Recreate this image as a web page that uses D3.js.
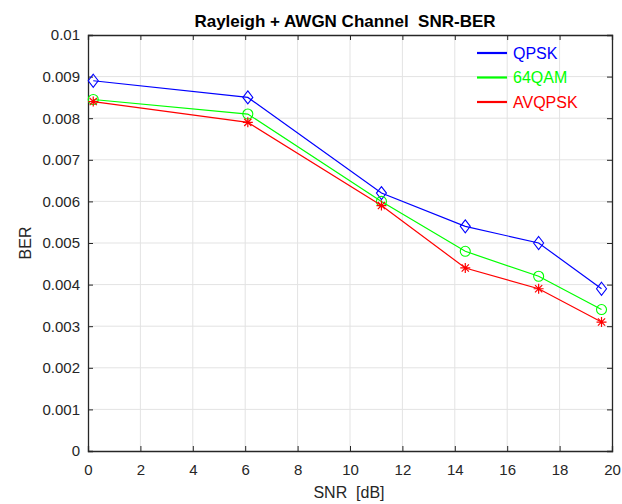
<!DOCTYPE html>
<html>
<head>
<meta charset="utf-8">
<script src="https://cdn.jsdelivr.net/npm/d3@7/dist/d3.min.js"></script>
<style>
  html, body { margin: 0; padding: 0; background: #fff; }
  svg { display: block; font-family: "Liberation Sans", Arial, sans-serif; }
</style>
</head>
<body>
<svg id="chart" width="622" height="504"></svg>
<script>
// SNR points (dB)
const snr = [0.2, 6.1, 11.2, 14.4, 17.2, 19.6];
// BER per modulation scheme
const berQPSK   = [0.0089, 0.0085, 0.0062, 0.0054, 0.0050, 0.0039];
const ber64QAM  = [0.00845, 0.0081, 0.0060, 0.0048, 0.0042, 0.0034];
const berAVQPSK = [0.0084, 0.0079, 0.0059, 0.0044, 0.0039, 0.0031];
const seriesNames = ["QPSK", "64QAM", "AVQPSK"];
const xTicks = [0, 2, 4, 6, 8, 10, 12, 14, 16, 18, 20];
const yTicks = [0, 0.001, 0.002, 0.003, 0.004, 0.005, 0.006, 0.007, 0.008, 0.009, 0.01];

const series = [
  { name: seriesNames[0], values: berQPSK,   color: "#0000ff", marker: "diamond" },
  { name: seriesNames[1], values: ber64QAM,  color: "#00ff00", marker: "circle" },
  { name: seriesNames[2], values: berAVQPSK, color: "#ff0000", marker: "star" }
];

const svg = d3.select("#chart");
const m = { left: 88, right: 10, top: 35, bottom: 53 };
const W = 622, H = 504;
const x = d3.scaleLinear().domain([0, 20]).range([m.left, W - m.right]);
const y = d3.scaleLinear().domain([0, 0.01]).range([H - m.bottom, m.top]);

const axisColor = "#262626";
const gridColor = "#e3e3e3";

// grid
const grid = svg.append("g");
grid.selectAll("line.gx").data(xTicks.slice(1, -1)).join("line")
  .attr("x1", d => x(d)).attr("x2", d => x(d))
  .attr("y1", y(0)).attr("y2", y(0.01))
  .attr("stroke", gridColor).attr("stroke-width", 1);
grid.selectAll("line.gy").data(yTicks.slice(1, -1)).join("line")
  .attr("y1", d => y(d)).attr("y2", d => y(d))
  .attr("x1", x(0)).attr("x2", x(20))
  .attr("stroke", gridColor).attr("stroke-width", 1);

// axes with inward ticks on all four sides
const fmtY = d => d === 0 ? "0" : d3.format("~g")(d);
const axBottom = svg.append("g").attr("transform", `translate(0,${y(0)})`)
  .call(d3.axisBottom(x).tickValues(xTicks).tickSize(-5).tickPadding(13).tickFormat(d3.format("d")));
const axTop = svg.append("g").attr("transform", `translate(0,${y(0.01)})`)
  .call(d3.axisTop(x).tickValues(xTicks).tickSize(-5).tickFormat(""));
const axLeft = svg.append("g").attr("transform", `translate(${x(0)},0)`)
  .call(d3.axisLeft(y).tickValues(yTicks).tickSize(-5).tickPadding(8).tickFormat(fmtY));
const axRight = svg.append("g").attr("transform", `translate(${x(20)},0)`)
  .call(d3.axisRight(y).tickValues(yTicks).tickSize(-5).tickFormat(""));

[axBottom, axTop, axLeft, axRight].forEach(g => {
  g.select(".domain").attr("stroke", axisColor).attr("stroke-width", 1.3);
  g.selectAll(".tick line").attr("stroke", axisColor).attr("stroke-width", 1);
  g.selectAll(".tick text").attr("fill", axisColor)
    .style("font-family", "'Liberation Sans', Arial, sans-serif").style("font-size", "15px");
});

// lines and markers
const line = d3.line().x((d, i) => x(snr[i])).y(d => y(d));
series.forEach(s => {
  svg.append("path").datum(s.values)
    .attr("d", line).attr("fill", "none")
    .attr("stroke", s.color).attr("stroke-width", 1.2);
  const g = svg.append("g");
  s.values.forEach((v, i) => {
    const cx = x(snr[i]), cy = y(v);
    if (s.marker === "diamond") {
      g.append("path")
        .attr("d", `M${cx},${cy - 6.5}L${cx + 5},${cy}L${cx},${cy + 6.5}L${cx - 5},${cy}Z`)
        .attr("fill", "none").attr("stroke", s.color).attr("stroke-width", 1.1);
    } else if (s.marker === "circle") {
      g.append("circle").attr("cx", cx).attr("cy", cy).attr("r", 5)
        .attr("fill", "none").attr("stroke", s.color).attr("stroke-width", 1.1);
    } else {
      const r = 5;
      const dd = r * 0.72;
      g.append("path")
        .attr("d", `M${cx - r},${cy}H${cx + r}M${cx},${cy - r}V${cy + r}` +
                   `M${cx - dd},${cy - dd}L${cx + dd},${cy + dd}M${cx - dd},${cy + dd}L${cx + dd},${cy - dd}`)
        .attr("stroke", s.color).attr("stroke-width", 1.2);
    }
  });
});

// legend (no frame)
const leg = svg.append("g");
series.forEach((s, i) => {
  const ly = 53 + i * 24.5;
  leg.append("line").attr("x1", 477).attr("x2", 507).attr("y1", ly).attr("y2", ly)
    .attr("stroke", s.color).attr("stroke-width", 2.2);
  leg.append("text").attr("x", 513).attr("y", ly).attr("dy", "0.36em")
    .attr("fill", s.color).style("font-size", "16px").text(s.name);
});

// title and axis labels
svg.append("text").attr("x", 345).attr("y", 27).attr("text-anchor", "middle")
  .attr("fill", "#000").style("font-size", "17px").style("font-weight", "bold")
  .text("Rayleigh + AWGN Channel\u00a0\u00a0SNR-BER");
svg.append("text").attr("x", 349).attr("y", 498).attr("text-anchor", "middle")
  .attr("fill", axisColor).style("font-size", "16px")
  .text("SNR\u00a0\u00a0[dB]");
svg.append("text").attr("transform", `translate(31,${(y(0) + y(0.01)) / 2}) rotate(-90)`)
  .attr("text-anchor", "middle").attr("fill", axisColor).style("font-size", "16px")
  .text("BER");
</script>
</body>
</html>
